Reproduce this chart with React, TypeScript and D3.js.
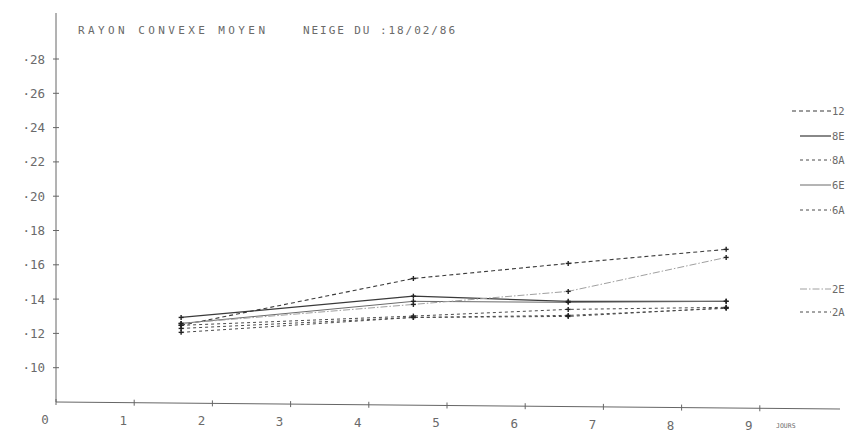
import React from "react";
import * as d3 from "d3";

const days = [1.6, 4.57, 6.55, 8.57];
const s12 = [0.1247, 0.152, 0.1608, 0.169];
const s8E = [0.1293, 0.1417, 0.1387, 0.1387];
const s8A = [0.1247, 0.1301, 0.134, 0.1352];
const s6E = [0.1258, 0.1387, 0.1381, 0.1387];
const s6A = [0.1229, 0.1293, 0.1299, 0.1349];
const s2E = [0.1258, 0.1369, 0.1445, 0.1643];
const s2A = [0.1206, 0.1293, 0.1305, 0.1346];

const seriesNames = ["12", "8E", "8A", "6E", "6A", "2E", "2A"];
const seriesValues = [s12, s8E, s8A, s6E, s6A, s2E, s2A];
const legendY = [111, 136, 160, 185, 210, 289, 312];

const yTicks = [0.1, 0.12, 0.14, 0.16, 0.18, 0.2, 0.22, 0.24, 0.26, 0.28];
const xTicks = [0, 1, 2, 3, 4, 5, 6, 7, 8, 9];

const title1 = "RAYON CONVEXE MOYEN";
const title2 = "NEIGE DU :18/02/86";

const styles: Record<string, { stroke: string; dash: string; width: number }> = {
  "12": { stroke: "#3a3a3a", dash: "4,3", width: 1.1 },
  "8E": { stroke: "#3a3a3a", dash: "", width: 1.2 },
  "8A": { stroke: "#4a4a4a", dash: "3,3", width: 1 },
  "6E": { stroke: "#6a6a6a", dash: "", width: 1 },
  "6A": { stroke: "#4a4a4a", dash: "3,3", width: 1 },
  "2E": { stroke: "#a0a0a0", dash: "7,2,1.5,2", width: 1 },
  "2A": { stroke: "#4a4a4a", dash: "3,3", width: 1 },
};

const FONT = "'DejaVu Sans Mono', monospace";
const TXT = "#6a6a6a";

export default function App() {
  const x = d3.scaleLinear().domain([0, 10]).range([56, 838]);
  const y = d3.scaleLinear().domain([0.08, 0.28]).range([402, 59]);
  const axisY = (px: number) => 402 + ((px - 56) * 7) / 784;
  const line = d3
    .line<number>()
    .x((_, i) => x(days[i]))
    .y((v) => y(v));

  return (
    <svg
      width={852}
      height={432}
      style={{ position: "fixed", left: 0, top: 0, background: "#fff", display: "block" }}
    >
      <rect x={0} y={0} width={852} height={432} fill="#fff" />
      {/* title */}
      <text x={78} y={34} fontFamily={FONT} fontSize={11} fill={TXT} textLength={187} lengthAdjust="spacing">
        {title1}
      </text>
      <text x={303} y={34} fontFamily={FONT} fontSize={11} fill={TXT} textLength={152} lengthAdjust="spacing">
        {title2}
      </text>

      {/* y axis */}
      <line x1={56} y1={13} x2={56} y2={402} stroke="#666" strokeWidth={1} />
      {yTicks.map((t) => (
        <g key={t}>
          <line x1={53} x2={59} y1={y(t)} y2={y(t)} stroke="#666" />
          <text
            x={45}
            y={y(t) + 4.5}
            textAnchor="end"
            fontFamily={FONT}
            fontSize={12.5}
            fill={TXT}
          >
            {"·" + String(Math.round(t * 100))}
          </text>
        </g>
      ))}

      {/* x axis (slightly tilted, as plotted) */}
      <line x1={56} y1={axisY(56)} x2={840} y2={axisY(840)} stroke="#666" strokeWidth={1} />
      {xTicks.map((t) => (
        <g key={t}>
          <line x1={x(t)} x2={x(t)} y1={axisY(x(t)) - 3} y2={axisY(x(t)) + 3} stroke="#666" />
          <text
            x={x(t) - 11}
            y={axisY(x(t)) + 22}
            textAnchor="middle"
            fontFamily={FONT}
            fontSize={12.5}
            fill={TXT}
          >
            {String(t)}
          </text>
        </g>
      ))}
      <text x={776} y={axisY(776) + 20} fontFamily={FONT} fontSize={6.5} fill={TXT}>
        JOURS
      </text>

      {/* series */}
      {seriesNames.map((n, si) => {
        const st = styles[n];
        return (
          <g key={n}>
            <path
              d={line(seriesValues[si]) || ""}
              fill="none"
              stroke={st.stroke}
              strokeWidth={st.width}
              strokeDasharray={st.dash}
            />
            {seriesValues[si].map((v, i) => (
              <g key={i} stroke="#222" strokeWidth={1.4}>
                <line x1={x(days[i]) - 2.5} x2={x(days[i]) + 2.5} y1={y(v)} y2={y(v)} />
                <line x1={x(days[i])} x2={x(days[i])} y1={y(v) - 2.5} y2={y(v) + 2.5} />
              </g>
            ))}
          </g>
        );
      })}

      {/* legend */}
      {seriesNames.map((n, si) => {
        const st = styles[n];
        return (
          <g key={"lg" + n}>
            <line
              x1={n === "12" ? 792 : 800}
              x2={831}
              y1={legendY[si]}
              y2={legendY[si]}
              stroke={st.stroke}
              strokeWidth={st.width}
              strokeDasharray={st.dash}
            />
            <text x={832} y={legendY[si] + 3.5} fontFamily={FONT} fontSize={10.5} fill={TXT}>
              {n}
            </text>
          </g>
        );
      })}
    </svg>
  );
}
